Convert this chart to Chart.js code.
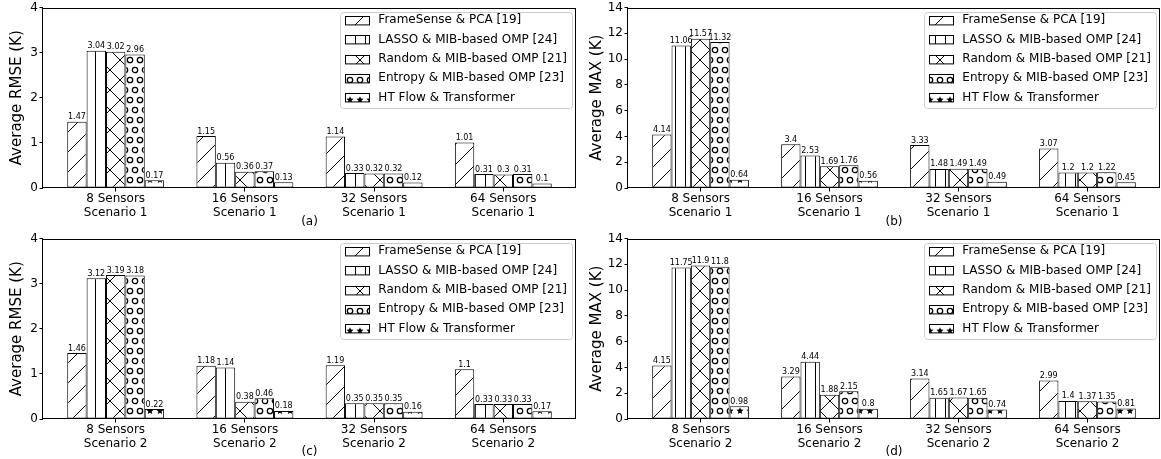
<!DOCTYPE html>
<html>
<head>
<meta charset="utf-8">
<script src="https://cdn.jsdelivr.net/npm/chart.js@4.4.0/dist/chart.umd.min.js"></script>
<style>
  html, body { margin: 0; padding: 0; background: #fff; }
  #wrap { position: relative; width: 1161px; height: 459px; overflow: hidden; }
  canvas { position: absolute; }
</style>
</head>
<body>
<div id="wrap">
  <canvas id="panelA" width="580" height="229" style="left:0;top:0"></canvas>
  <canvas id="panelB" width="581" height="229" style="left:580px;top:0"></canvas>
  <canvas id="panelC" width="580" height="228" style="left:0;top:231px"></canvas>
  <canvas id="panelD" width="581" height="228" style="left:580px;top:231px"></canvas>
</div>
<script>
const groups = ['8 Sensors', '16 Sensors', '32 Sensors', '64 Sensors'];
const groupPos = [0, 1, 2, 3];
const methods = ['FrameSense & PCA [19]', 'LASSO & MIB-based OMP [24]', 'Random & MIB-based OMP [21]',
                 'Entropy & MIB-based OMP [23]', 'HT Flow & Transformer'];
const hatches = ['/', '|', 'x', 'o', '*'];

// one row per method, one column per sensor count
const rmseScenario1 = [
  [1.47, 1.15, 1.14, 1.01],
  [3.04, 0.56, 0.33, 0.31],
  [3.02, 0.36, 0.32, 0.3],
  [2.96, 0.37, 0.32, 0.31],
  [0.17, 0.13, 0.12, 0.1]
];
const maxScenario1 = [
  [4.14, 3.4, 3.33, 3.07],
  [11.06, 2.53, 1.48, 1.2],
  [11.57, 1.69, 1.49, 1.2],
  [11.32, 1.76, 1.49, 1.22],
  [0.64, 0.56, 0.49, 0.45]
];
const rmseScenario2 = [
  [1.46, 1.18, 1.19, 1.1],
  [3.12, 1.14, 0.35, 0.33],
  [3.19, 0.38, 0.35, 0.33],
  [3.18, 0.46, 0.35, 0.33],
  [0.22, 0.18, 0.16, 0.17]
];
const maxScenario2 = [
  [4.15, 3.29, 3.14, 2.99],
  [11.75, 4.44, 1.65, 1.4],
  [11.9, 1.88, 1.67, 1.37],
  [11.8, 2.15, 1.65, 1.35],
  [0.98, 0.8, 0.74, 0.81]
];
const rmseTicks = [0, 1, 2, 3, 4];
const maxTicks = [0, 2, 4, 6, 8, 10, 12, 14];

Chart.defaults.font.family = '"DejaVu Sans", sans-serif';
Chart.defaults.color = '#000';

function starPath(g, cx, cy, ro, ri) {
  g.beginPath();
  for (let i = 0; i < 10; i++) {
    const r = i % 2 ? ri : ro;
    const a = -Math.PI / 2 + i * Math.PI / 5;
    g.lineTo(cx + r * Math.cos(a), cy + r * Math.sin(a));
  }
  g.closePath();
}

function makeHatch(kind) {
  const c = document.createElement('canvas');
  const w = (kind === '/' || kind === 'x') ? 20 : 10;
  const h = kind === '|' ? 10 : 20;
  c.width = w; c.height = h;
  const g = c.getContext('2d');
  g.fillStyle = '#fff';
  g.fillRect(0, 0, w, h);
  g.strokeStyle = '#000';
  g.fillStyle = '#000';
  g.lineWidth = 1;
  if (kind === '/' || kind === 'x') {
    g.beginPath();
    for (let k = -1; k <= 1; k++) { g.moveTo(k * 20, 20); g.lineTo(k * 20 + 20, 0); }
    if (kind === 'x') {
      for (let k = -1; k <= 1; k++) { g.moveTo(k * 20, 0); g.lineTo(k * 20 + 20, 20); }
    }
    g.stroke();
  } else if (kind === '|') {
    g.beginPath(); g.moveTo(5.5, 0); g.lineTo(5.5, 10); g.stroke();
  } else {
    const centers = [[0, 0], [10, 0], [0, 20], [10, 20], [5, 10]];
    centers.forEach(([cx, cy]) => {
      if (kind === 'o') {
        g.lineWidth = 1.3;
        g.beginPath(); g.arc(cx, cy, 2.7, 0, Math.PI * 2); g.stroke();
      } else {
        starPath(g, cx, cy, 3.8, 1.7); g.fill();
      }
    });
  }
  return g.createPattern(c, 'repeat');
}
const patterns = hatches.map(makeHatch);

// outer frame like matplotlib spines
const frame = {
  id: 'frame',
  afterDatasetsDraw(chart) {
    const {ctx, chartArea: a} = chart;
    ctx.save();
    ctx.strokeStyle = '#000';
    ctx.lineWidth = 1;
    const l = Math.round(a.left) - 0.5, t = Math.round(a.top) + 0.5;
    const r = Math.round(a.right) - 0.5, b = Math.round(a.bottom) - 0.5;
    ctx.strokeRect(l, t, r - l, b - t);
    ctx.restore();
  }
};

const valueLabels = {
  id: 'valueLabels',
  afterDatasetsDraw(chart) {
    const {ctx} = chart;
    ctx.save();
    ctx.font = '8px "DejaVu Sans"';
    ctx.fillStyle = '#000';
    ctx.textAlign = 'center';
    ctx.textBaseline = 'alphabetic';
    chart.data.datasets.forEach((ds, di) => {
      chart.getDatasetMeta(di).data.forEach((bar, i) => {
        ctx.fillText(String(ds.data[i].y), bar.x, bar.y - 2.5);
      });
    });
    ctx.restore();
  }
};

const hatchLegend = {
  id: 'hatchLegend',
  afterDraw(chart) {
    const {ctx, chartArea: a} = chart;
    const fs = 12, pitch = 19.4, hw = 24, hh = 8.4, pad = 5;
    ctx.save();
    ctx.font = fs + 'px "DejaVu Sans"';
    const tw = Math.max(...methods.map(m => ctx.measureText(m).width));
    const w = pad + hw + 9.6 + tw + pad;
    const h = 96;
    const x0 = a.right - 4 - w, y0 = a.top + 4;
    ctx.beginPath();
    ctx.roundRect(Math.round(x0) + 0.5, Math.round(y0) + 0.5, Math.round(w), h, 3);
    ctx.fillStyle = 'rgba(255,255,255,0.8)';
    ctx.fill();
    ctx.strokeStyle = '#ccc';
    ctx.lineWidth = 1;
    ctx.stroke();
    methods.forEach((m, i) => {
      const cy = y0 + 8.5 + i * pitch;
      const hx = Math.round(x0 + pad) + 0.5, hy = Math.round(cy - hh / 2) + 0.5;
      ctx.fillStyle = patterns[i];
      ctx.fillRect(hx, hy, hw, hh);
      ctx.strokeStyle = '#000';
      ctx.strokeRect(hx, hy, hw, hh);
      ctx.fillStyle = '#000';
      ctx.textAlign = 'left';
      ctx.textBaseline = 'middle';
      ctx.fillText(m, x0 + pad + hw + 9.6, cy);
    });
    ctx.restore();
  }
};

function buildPanel(id, values, yTicks, yMax, yTitle, scenario, tag, area) {
  const canvas = document.getElementById(id);
  const datasets = methods.map((m, k) => ({
    label: m,
    data: groupPos.map((x, i) => ({x: x, y: values[k][i]})),
    backgroundColor: patterns[k],
    borderColor: '#000',
    borderWidth: 1,
    borderSkipped: false,
    categoryPercentage: 0.75,
    barPercentage: 1.0
  }));
  return new Chart(canvas, {
    type: 'bar',
    data: {datasets},
    options: {
      responsive: false,
      animation: false,
      events: [],
      layout: {padding: {left: 0, top: area.top, right: canvas.width - area.right, bottom: 0}},
      plugins: {legend: {display: false}, tooltip: {enabled: false}},
      scales: {
        x: {
          type: 'linear', min: -0.5625, max: 3.5625, offset: false, bounds: 'data',
          grid: {display: true, offset: false, drawOnChartArea: false, drawTicks: true, tickLength: 3.5, color: '#000'},
          border: {display: false},
          afterBuildTicks: s => { s.ticks = groupPos.map(v => ({value: v})); },
          afterFit: s => { s.height = canvas.height - area.bottom; },
          ticks: {
            autoSkip: false, maxRotation: 0, padding: 0,
            font: {size: 12, lineHeight: 1.17},
            callback: v => [groups[v], scenario]
          },
          title: {display: true, text: tag, font: {size: 12}, padding: {top: 0, bottom: 0}}
        },
        y: {
          min: 0, max: yMax, bounds: 'data',
          afterBuildTicks: s => { s.ticks = yTicks.map(v => ({value: v})); },
          afterFit: s => { s.width = area.left; },
          grid: {display: true, drawOnChartArea: false, drawTicks: true, tickLength: 3.5, color: '#000'},
          border: {display: false},
          ticks: {padding: 1.5, font: {size: 12, lineHeight: 1}},
          title: {display: true, text: yTitle, font: {size: 15}, padding: {top: 8, bottom: 0}}
        }
      }
    },
    plugins: [frame, valueLabels, hatchLegend]
  });
}

buildPanel('panelA', rmseScenario1, rmseTicks, 4, 'Average RMSE (K)', 'Scenario 1', '(a)', {left: 43, right: 576, top: 6, bottom: 188});
buildPanel('panelB', maxScenario1, maxTicks, 14, 'Average MAX (K)', 'Scenario 1', '(b)', {left: 48, right: 580, top: 6, bottom: 188});
buildPanel('panelC', rmseScenario2, rmseTicks, 4, 'Average RMSE (K)', 'Scenario 2', '(c)', {left: 43, right: 576, top: 6, bottom: 188});
buildPanel('panelD', maxScenario2, maxTicks, 14, 'Average MAX (K)', 'Scenario 2', '(d)', {left: 48, right: 580, top: 6, bottom: 188});
</script>
</body>
</html>
